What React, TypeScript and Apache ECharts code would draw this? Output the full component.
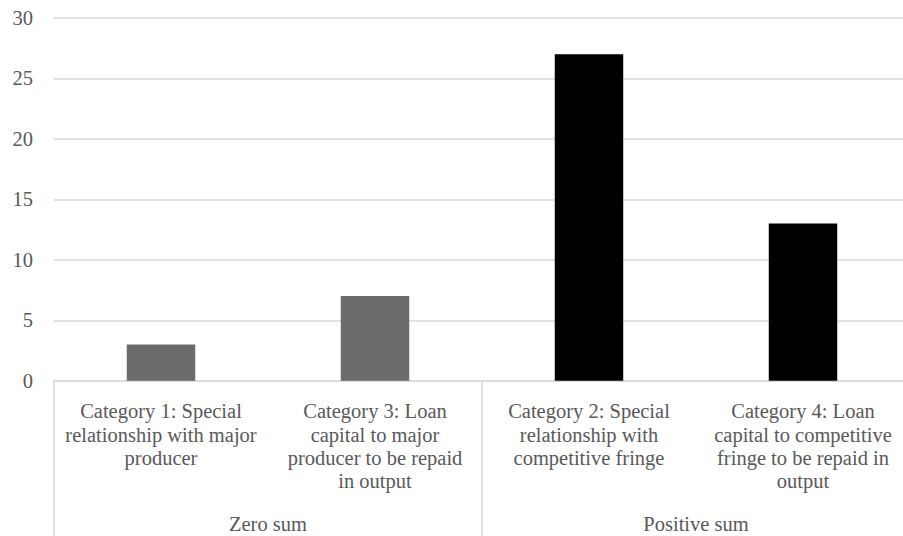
import React, { useEffect, useRef } from "react";
import * as echarts from "echarts";

const categories = [
  "Category 1: Special\nrelationship with major\nproducer",
  "Category 3: Loan\ncapital to major\nproducer to be repaid\nin output",
  "Category 2: Special\nrelationship with\ncompetitive fringe",
  "Category 4: Loan\ncapital to competitive\nfringe to be repaid in\noutput",
];
const groups = ["Zero sum", "Positive sum"];
const groupOfCategory = [0, 0, 1, 1];
const values = [3, 7, 27, 13];
const groupColors = ["#6b6b6b", "#000000"];

const FONT = "Liberation Serif";
const FS = 20.5;
const TEXT = "#595959";
const GRID = "#d9d9d9";

export default function App() {
  const ref = useRef<HTMLDivElement>(null);
  useEffect(() => {
    if (!ref.current) return;
    const chart = echarts.init(ref.current, null, { renderer: "svg" });
    chart.setOption({
      animation: false,
      grid: { left: 54, right: 0, top: 18, bottom: 153, containLabel: false },
      xAxis: [
        {
          type: "category",
          data: categories,
          position: "bottom",
          axisLine: { show: true, lineStyle: { color: GRID, width: 1.5 } },
          axisTick: { show: false },
          axisLabel: {
            interval: 0,
            margin: 19,
            color: TEXT,
            fontFamily: FONT,
            fontSize: FS,
            lineHeight: 23.3,
            align: "center",
          },
        },
        {
          type: "category",
          data: groups,
          position: "bottom",
          axisLine: { show: false },
          axisTick: {
            show: true,
            interval: 0,
            length: 160,
            lineStyle: { color: GRID, width: 1.5 },
          },
          axisLabel: {
            interval: 0,
            margin: 132,
            color: TEXT,
            fontFamily: FONT,
            fontSize: FS,
            lineHeight: 23.3,
          },
        },
      ],
      yAxis: {
        type: "value",
        min: 0,
        max: 30,
        interval: 5,
        axisLine: { show: false },
        axisTick: { show: false },
        splitLine: { lineStyle: { color: GRID, width: 1.5 } },
        axisLabel: { color: TEXT, fontFamily: FONT, fontSize: FS, margin: 21 },
      },
      series: [
        {
          type: "bar",
          xAxisIndex: 0,
          barWidth: "32%",
          data: values.map((v, i) => ({
            value: v,
            itemStyle: { color: groupColors[groupOfCategory[i]] },
          })),
        },
      ],
    });
    return () => chart.dispose();
  }, []);
  return (
    <div style={{ position: "absolute", left: 0, top: 0, width: 903, height: 536, overflow: "hidden" }}>
      <div ref={ref} style={{ width: 910, height: 536 }} />
    </div>
  );
}
